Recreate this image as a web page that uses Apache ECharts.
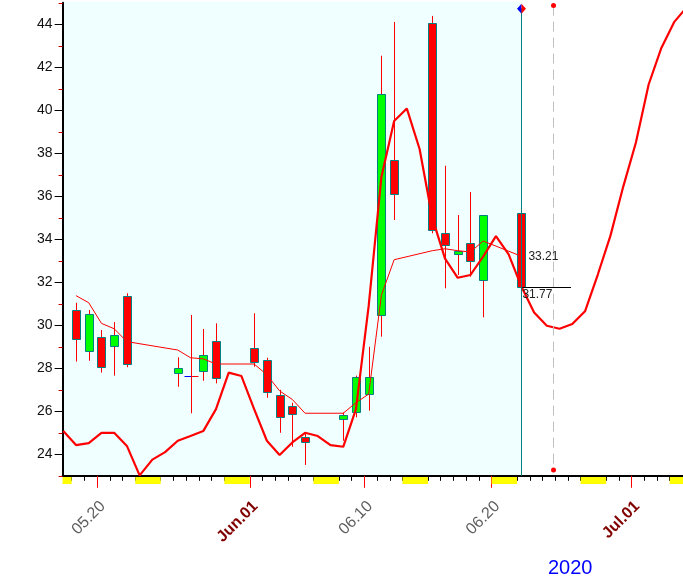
<!DOCTYPE html>
<html><head><meta charset="utf-8">
<script src="https://cdn.jsdelivr.net/npm/echarts@6/dist/echarts.min.js"></script>
<style>html,body{margin:0;padding:0;background:#fff}#c{width:683px;height:579px}</style>
</head><body><div id="c"></div><script>
// Day index: 0 = 2020-05-18 (candle centres sit on whole days)
const candleDays = [0,1,2,3,4,8,9,10,11,14,15,16,17,18,21,22,23,24,25,28,29,30,31,32,35];
const opens  = [30.70,28.79,29.47,29.02,31.35,27.77,27.63,27.87,29.28,28.93,28.37,26.76,26.23,24.80,25.63,25.95,26.79,30.48,37.67,44.05,34.28,33.30,33.81,32.11,35.21];
const highs  = [31.05,30.71,29.78,30.15,31.49,28.51,30.48,29.83,30.09,30.56,28.49,27.00,26.40,24.98,25.94,27.66,29.00,42.54,44.11,44.39,37.42,35.13,36.20,35.12,35.21];
const lows   = [28.31,28.35,27.80,27.66,28.05,27.14,25.91,27.42,27.30,28.07,26.63,25.00,24.35,23.50,24.63,25.72,26.03,29.47,34.90,34.28,31.72,32.34,32.26,30.37,31.77];
const closes = [29.35,30.51,28.05,29.53,28.20,28.00,27.63,28.60,27.53,28.28,26.88,25.72,25.86,24.56,25.81,27.58,27.58,40.74,36.11,34.43,33.72,33.47,32.98,35.12,31.77];

const maDays   = [0,1,2,3,4,8,9,10,11,14,15,16,17,18,21,22,23,24,25,28,29,30,31,32,35];
const maValues = [31.38,31.05,30.09,29.84,29.24,28.85,28.49,28.44,28.20,28.20,27.70,26.95,26.55,25.91,25.91,26.40,26.80,31.40,33.05,33.47,33.56,33.47,33.41,33.92,33.21];

const curveDays   = [-1,0,1,2,3,4,5,6,7,8,9,10,11,12,13,14,15,16,17,18,19,20,21,22,23,24,25,26,27,28,29,30,31,32,33,34,35,36,37,38,39,40,41,42,43,44,45,46,47,48];
const curveValues = [25.08,24.43,24.52,25.00,25.00,24.39,23.02,23.75,24.10,24.63,24.85,25.08,26.10,27.80,27.64,26.10,24.63,23.97,24.55,25.00,24.85,24.43,24.35,26.10,30.90,36.90,39.50,40.08,38.20,35.00,33.10,32.21,32.34,33.20,34.15,33.30,31.80,30.60,29.98,29.84,30.06,30.65,32.35,34.17,36.44,38.50,41.20,42.90,44.10,44.80];

const weekendStarts = [-2,5,12,19,26,33,40,47];          // Saturdays
const labelDays  = [2,14,23,33,44];
const labelTexts = ['05.20','Jun.01','06.10','06.20','Jul.01'];
const labelIsMonth = [false,true,false,false,true];
const yMajor = [24,26,28,30,32,34,36,38,40,42,44];
const lastDay = 35, forecastDay = 37.45, lastClose = 31.77, lastMA = 33.21, closeLineEnd = 38.9;
const yearText = '2020';

// axis geometry
const xMin = -1.053, xMax = 47.70, yMin = 23, yMax = 45;
const dayStart = -0.342;   // tick marks sit at the start of each day slot
const labelShift = 0.45;   // label anchor sits a little right of its tick

const dayTicks = [];
for (let k = -1; k <= 48; k++) { const v = k + dayStart; if (v >= xMin && v <= xMax) dayTicks.push(v); }
const labelTicks = labelDays.map(d => d + dayStart);
const labelAnchors = labelTicks.map(v => v + labelShift);

const chart = echarts.init(document.getElementById('c'), null, {renderer:'canvas'});
const half = v => Math.round(v) + 0.5;
const blank = () => '';

const option = {
  animation: false,
  backgroundColor: '#fff',
  grid: {left: 62.6, right: 0, top: 2.8, bottom: 103.2, containLabel: false, outerBoundsMode: 'none'},
  xAxis: [
    {type:'value', min:xMin, max:xMax, position:'bottom',
     axisLine:{show:true, onZero:false, lineStyle:{color:'#000', width:2}},
     axisTick:{show:true, customValues: dayTicks, length:5, lineStyle:{color:'#000', width:1}},
     axisLabel:{show:true, customValues: dayTicks, formatter: blank}, splitLine:{show:false}},
    {type:'value', min:xMin, max:xMax, position:'bottom',
     axisLine:{show:false, onZero:false},
     axisTick:{show:true, customValues: labelTicks, length:12, lineStyle:{color:'#ff0000', width:1}},
     axisLabel:{show:true, customValues: labelAnchors, rotate:45, margin:28,
       formatter: v => { const i = labelAnchors.findIndex(t => Math.abs(t - v) < 1e-6); if (i < 0) return ''; return (labelIsMonth[i] ? '{m|' : '{d|') + labelTexts[i] + '}'; },
       rich: {
         d:{color:'#5e5e5e', fontSize:16, fontFamily:'Liberation Sans'},
         m:{color:'#800000', fontSize:16, fontWeight:'bold', fontFamily:'Liberation Sans'}
       }},
     splitLine:{show:false}}
  ],
  yAxis: [
    {type:'value', min:yMin, max:yMax, position:'left',
     axisLine:{show:true, onZero:false, lineStyle:{color:'#000', width:2}},
     axisTick:{show:true, customValues:yMajor, length:8, lineStyle:{color:'#000', width:1}},
     axisLabel:{show:true, customValues:yMajor, margin:10, color:'#111', fontSize:14, fontFamily:'Liberation Sans', padding:[4,0,0,0]},
     splitLine:{show:false}},
    {type:'value', min:yMin, max:yMax, interval:2, position:'left',
     axisLine:{show:false, onZero:false},
     axisTick:{show:true, length:4, lineStyle:{color:'#cc0000', width:1}},
     axisLabel:{show:true, formatter: blank}, splitLine:{show:false}}
  ],
  graphic: [
    {type:'text', left:548, top:558, style:{text:yearText, fill:'#0000ff', font:'20px "Liberation Sans"'}}
  ],
  series: [
    // shaded history background
    {type:'custom', z:0, silent:true, clip:false, xAxisIndex:0, yAxisIndex:0,
     data:[[lastDay]],
     renderItem(params, api){
       const p1 = api.coord([xMin, yMax]), p2 = api.coord([api.value(0), yMin]);
       return {type:'rect', shape:{x:p1[0], y:p1[1]-1, width:p2[0]-p1[0], height:p2[1]-p1[1]+1}, style:{fill:'#f0ffff'}};
     }},
    // weekend markers under the axis
    {type:'custom', z:6, silent:true, clip:false, xAxisIndex:0, yAxisIndex:0,
     data: weekendStarts.map(d => [Math.max(d + dayStart, xMin), Math.min(d + 2 + dayStart, xMax)]),
     renderItem(params, api){
       const a = api.coord([api.value(0), yMin]), b = api.coord([api.value(1), yMin]);
       return {type:'rect', shape:{x:a[0], y:Math.round(a[1])+1, width:b[0]-a[0], height:7}, style:{fill:'#ffff00'}, z2:-1};
     }},
    // candles
    {type:'custom', z:3, silent:true, xAxisIndex:0, yAxisIndex:0,
     data: candleDays.map((d,i) => [d, opens[i], closes[i], lows[i], highs[i]]),
     encode:{x:0, y:[1,2,3,4]},
     renderItem(params, api){
       const d = api.value(0), o = api.value(1), c = api.value(2), l = api.value(3), h = api.value(4);
       const pO = api.coord([d,o]), pC = api.coord([d,c]), pL = api.coord([d,l]), pH = api.coord([d,h]);
       const cx = half(pO[0]);
       const ch = [{type:'line', shape:{x1:cx, y1:pH[1], x2:cx, y2:pL[1]}, style:{stroke:'#ff0000', lineWidth:1}}];
       if (o === c) {
         const y = half(pO[1]);
         ch.push({type:'line', shape:{x1:cx-7, y1:y, x2:cx, y2:y}, style:{stroke:'#0000ff', lineWidth:1}});
         ch.push({type:'line', shape:{x1:cx, y1:y, x2:cx+7, y2:y}, style:{stroke:'#ff0000', lineWidth:1}});
       } else {
         const top = half(Math.min(pO[1], pC[1])), bot = half(Math.max(pO[1], pC[1]));
         ch.push({type:'rect', shape:{x:cx-4, y:top, width:8, height:Math.max(bot-top,1)},
                  style:{fill: c > o ? '#00ff00' : '#ff0000', stroke:'#008080', lineWidth:1}});
       }
       return {type:'group', children:ch};
     }},
    // fitted curve
    {type:'line', z:4, silent:true, xAxisIndex:0, yAxisIndex:0, showSymbol:false, symbol:'none',
     data: curveDays.map((d,i) => [d, curveValues[i]]),
     lineStyle:{color:'#ff0000', width:2.2}},
    // moving average
    {type:'line', z:4, silent:true, xAxisIndex:0, yAxisIndex:0, showSymbol:false, symbol:'none',
     data: maDays.map((d,i) => [d, maValues[i]]),
     lineStyle:{color:'#ff0000', width:1}},
    // cursor, forecast marker and last-value labels
    {type:'custom', z:5, silent:true, clip:false, xAxisIndex:0, yAxisIndex:0,
     data:[[lastDay, forecastDay, lastClose, lastMA]],
     renderItem(params, api){
       const ld = api.value(0), fd = api.value(1), lc = api.value(2), lm = api.value(3);
       const top = api.coord([ld, 44.75]), bot = api.coord([ld, yMin]);
       const vx = half(top[0]);
       const fTop = api.coord([fd, 44.87]), fBot = api.coord([fd, 23.27]);
       const fx = half(fTop[0]);
       const cl1 = api.coord([ld, lc]), cl2 = api.coord([closeLineEnd, lc]);
       const ma = api.coord([ld, lm]);
       const dm = api.coord([ld, 44.72]);
       const dy = dm[1];
       return {type:'group', children:[
         {type:'line', shape:{x1:fx, y1:fTop[1], x2:fx, y2:fBot[1]}, style:{stroke:'#c0c0c0', lineWidth:1, lineDash:[10,6]}},
         {type:'circle', shape:{cx:fx, cy:fTop[1], r:2.5}, style:{fill:'#ff0000'}},
         {type:'circle', shape:{cx:fx, cy:fBot[1], r:2.5}, style:{fill:'#ff0000'}},
         {type:'line', shape:{x1:vx, y1:top[1], x2:vx, y2:bot[1]}, style:{stroke:'#008080', lineWidth:1}},
         {type:'polygon', shape:{points:[[vx,dy-5],[vx-4.5,dy],[vx,dy+5]]}, style:{fill:'#0000ff'}},
         {type:'polygon', shape:{points:[[vx,dy-5],[vx+4.5,dy],[vx,dy+5]]}, style:{fill:'#ff0000'}},
         {type:'line', shape:{x1:cl1[0]+1, y1:half(cl1[1]), x2:cl2[0], y2:half(cl1[1])}, style:{stroke:'#000', lineWidth:1}},
         {type:'text', x:ma[0]+7, y:ma[1], style:{text:lm.toFixed(2), fill:'#222', font:'12px "Liberation Sans"', verticalAlign:'middle', align:'left'}},
         {type:'text', x:cl1[0]+1, y:cl1[1]+7, style:{text:lc.toFixed(2), fill:'#222', font:'12px "Liberation Sans"', verticalAlign:'middle', align:'left'}}
       ]};
     }}
  ]
};
chart.setOption(option);
</script></body></html>
